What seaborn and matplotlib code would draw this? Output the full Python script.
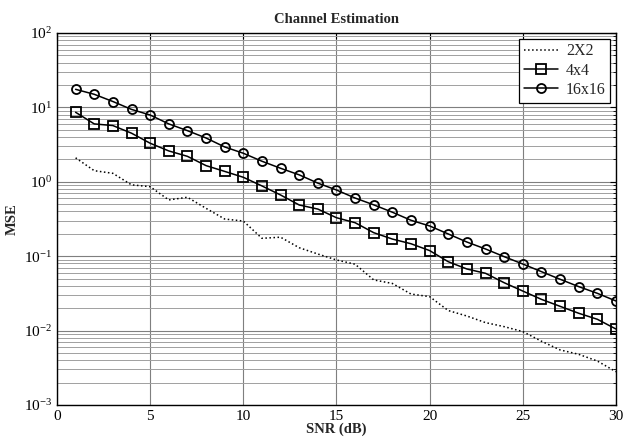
import numpy as np
import pandas as pd
import seaborn as sns
import matplotlib
matplotlib.use("Agg")
import matplotlib.pyplot as plt
from matplotlib.ticker import LogLocator, FixedLocator, NullFormatter

# values
snr = list(range(1, 31))
mse_2x2 = [2.1, 1.41, 1.3, 0.91, 0.86, 0.57, 0.62, 0.44, 0.316, 0.297,
           0.174, 0.18, 0.13, 0.107, 0.089, 0.078, 0.048, 0.043, 0.031, 0.0286,
           0.0186, 0.0157, 0.0128, 0.0113, 0.0097, 0.0072, 0.0055, 0.0048, 0.0039, 0.0028]
mse_4x4 = [8.6, 6.0, 5.7, 4.5, 3.3, 2.6, 2.2, 1.65, 1.38, 1.15,
           0.88, 0.665, 0.488, 0.43, 0.329, 0.282, 0.207, 0.17, 0.147, 0.119,
           0.0843, 0.0673, 0.0589, 0.044, 0.034, 0.0263, 0.0212, 0.0171, 0.0142, 0.0105]
mse_16x16 = [17.5, 15.0, 12.0, 9.4, 7.9, 6.0, 4.87, 3.88, 2.94, 2.42,
             1.89, 1.52, 1.24, 0.96, 0.776, 0.605, 0.49, 0.39, 0.304, 0.255,
             0.199, 0.155, 0.125, 0.0986, 0.0785, 0.062, 0.049, 0.039, 0.0317, 0.025]
labels = ["2X2", "4x4", "16x16"]

df = pd.DataFrame({"SNR": snr * 3,
                   "MSE": mse_2x2 + mse_4x4 + mse_16x16,
                   "series": np.repeat(labels, len(snr))})

sns.set_style("white")
plt.rcParams['font.family'] = ['Liberation Serif', 'DejaVu Serif']
plt.rcParams['mathtext.fontset'] = 'stix'

fig = plt.figure(figsize=(6.24, 4.43), dpi=100)
ax = fig.add_axes([0.0913, 0.0858, 0.8958, 0.8397])

styles = {"2X2": dict(linestyle=":", marker=None),
          "4x4": dict(linestyle="-", marker="s"),
          "16x16": dict(linestyle="-", marker="o")}
for name in labels:
    sub = df[df["series"] == name]
    sns.lineplot(data=sub, x="SNR", y="MSE", ax=ax, color="black", lw=1.1,
                 label=name, markersize=6.5, markerfacecolor="none",
                 markeredgecolor="black", markeredgewidth=1.3, **styles[name])

ax.set_yscale("log")
ax.set_xlim(0, 30)
ax.set_ylim(1e-3, 1e2)
ax.xaxis.set_major_locator(FixedLocator([0, 5, 10, 15, 20, 25, 30]))
ax.yaxis.set_major_locator(LogLocator(base=10, numticks=10))
ax.yaxis.set_minor_locator(LogLocator(base=10, subs=np.arange(2, 10), numticks=20))
ax.yaxis.set_minor_formatter(NullFormatter())

ax.grid(True, which="major", color="#7f7f7f", lw=0.8)
ax.grid(True, which="minor", axis="y", color="#a0a0a0", lw=0.7)
ax.tick_params(which="both", direction="in", top=True, right=True,
               labelsize=11, colors="black")
ax.tick_params(which="major", length=4)
ax.tick_params(which="minor", length=2)
for s in ax.spines.values():
    s.set_color("black")
    s.set_linewidth(1.0)

ax.set_title("Channel Estimation", fontsize=10.5, fontweight="bold", pad=7)
ax.set_xlabel("SNR (dB)", fontsize=10.5, fontweight="bold", labelpad=0)
ax.set_ylabel("MSE", fontsize=10.5, fontweight="bold", labelpad=4)

leg = ax.legend(loc="upper right", fontsize=11.5, frameon=True, fancybox=False,
                borderaxespad=0.35, handlelength=2.1, labelspacing=0.2,
                borderpad=0.3, handletextpad=0.5)
leg.get_frame().set_edgecolor("black")
leg.get_frame().set_linewidth(0.9)
leg.get_frame().set_alpha(1)

fig.savefig("out.png", dpi=100)
